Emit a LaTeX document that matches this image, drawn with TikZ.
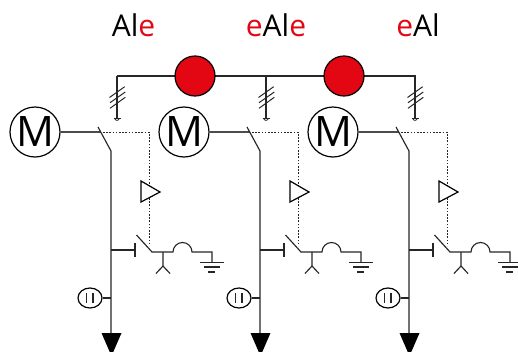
\documentclass[tikz,border=0pt]{standalone}
\usepackage{fontspec}
\setmainfont{Open Sans}
\usetikzlibrary{shapes.geometric}
\definecolor{redc}{RGB}{227,6,19}
\tikzset{
  wire/.style={line width=1.15pt,draw=black!85,line cap=butt},
  thin wire/.style={line width=1pt,draw=black!85},
  dots/.style={line width=1pt,draw=black!85,dash pattern=on 1.5pt off 1.7pt},
  motor/.style={circle,draw,line width=1.2pt,fill=white,minimum size=50pt,inner sep=0pt,font=\fontsize{42}{42}\selectfont},
  redball/.style={circle,draw,line width=1.2pt,fill=redc,minimum size=40pt,inner sep=0pt},
  meter/.style={ellipse,draw,line width=1.2pt,fill=white,minimum width=24pt,minimum height=20pt,inner sep=0pt},
  amp/.style={draw,line width=1.2pt,fill=white,line join=miter},
  lab/.style={font=\fontsize{30}{30}\selectfont,anchor=center}
}
\begin{document}
\begin{tikzpicture}[x=1pt,y=-1pt]
\useasboundingbox (0,0) rectangle (518,351);
\node[lab] (t1) at (133.5,25.5) {Al\textcolor{redc}{e}};
\node[lab] (t2) at (276,25.5) {\textcolor{redc}{e}Al\textcolor{redc}{e}};
\node[lab] (t3) at (418,25.5) {\textcolor{redc}{e}Al};
\coordinate (busL) at (117,76);
\coordinate (busR) at (416,76);
\draw[wire] (busL) -- (busR);
\node[redball] (r1) at (195,76) {};
\node[redball] (r2) at (344,76) {};
\foreach \i/\dx in {1/0,2/149,3/298}{
\begin{scope}[xshift=\dx pt]
  % auxiliary drop with hatches
  \coordinate (d\i a) at (117,76);
  \coordinate (d\i b) at (117,118);
  \draw[wire] (d\i a) -- (d\i b);
  \draw[thin wire] (109.5,97.5) -- (124.7,86.7) (110,102.7) -- (125.3,92) (110,108.3) -- (125.3,97.3);
  \draw[thin wire] (113.5,118) -- (120.5,118);
  \draw[thin wire,line width=.8pt] (114.6,118) arc[start angle=180,end angle=0,radius=2.4];
  % motor and main switch
  \node[motor] (m\i) at (35,132) {M};
  \coordinate (s\i a) at (98,127);
  \coordinate (s\i b) at (111,151);
  \coordinate (s\i c) at (100.5,132);
  \coordinate (bot\i) at (111,335);
  \draw[wire,line width=1.5pt,draw=black!70] (m\i) -- (s\i c);
  \draw[wire] (s\i a) -- (s\i b) -- (bot\i);
  % control line and amplifier
  \coordinate (c\i a) at (103,132);
  \coordinate (c\i b) at (149,132);
  \coordinate (c\i c) at (149,246);
  \draw[dots] (c\i a) -- (c\i b) -- (c\i c);
  \draw[amp] (141,181) -- (160,192) -- (141,202) -- cycle;
  % secondary switch
  \coordinate (e\i a) at (111,250);
  \coordinate (e\i b) at (135,250);
  \draw[wire] (e\i a) -- (e\i b);
  \draw[wire] (135,243) -- (135,257);
  \draw[wire] (136.5,235) -- (152,252) -- (173,252) arc[start angle=180,end angle=360,radius=9.5] -- (212,252) -- (212,262.5);
  \draw[wire] (200,262.5) -- (224,262.5) (204,267) -- (220,267) (208,272) -- (215,272);
  \draw[wire] (163,252) -- (163,266) (156,273.5) -- (163,266) -- (170,273.5);
  % metering ellipse
  \node[meter] (g\i) at (90,298) {};
  \coordinate (g\i r) at (111,298);
  \draw[wire] (g\i) -- (g\i r);
  \draw[wire] (86.5,293) -- (86.5,303) (93,293) -- (93,303);
  % arrow
  \fill (101.5,333) -- (121.5,333) -- (111.5,356) -- cycle;
\end{scope}
}
\end{tikzpicture}
\end{document}
